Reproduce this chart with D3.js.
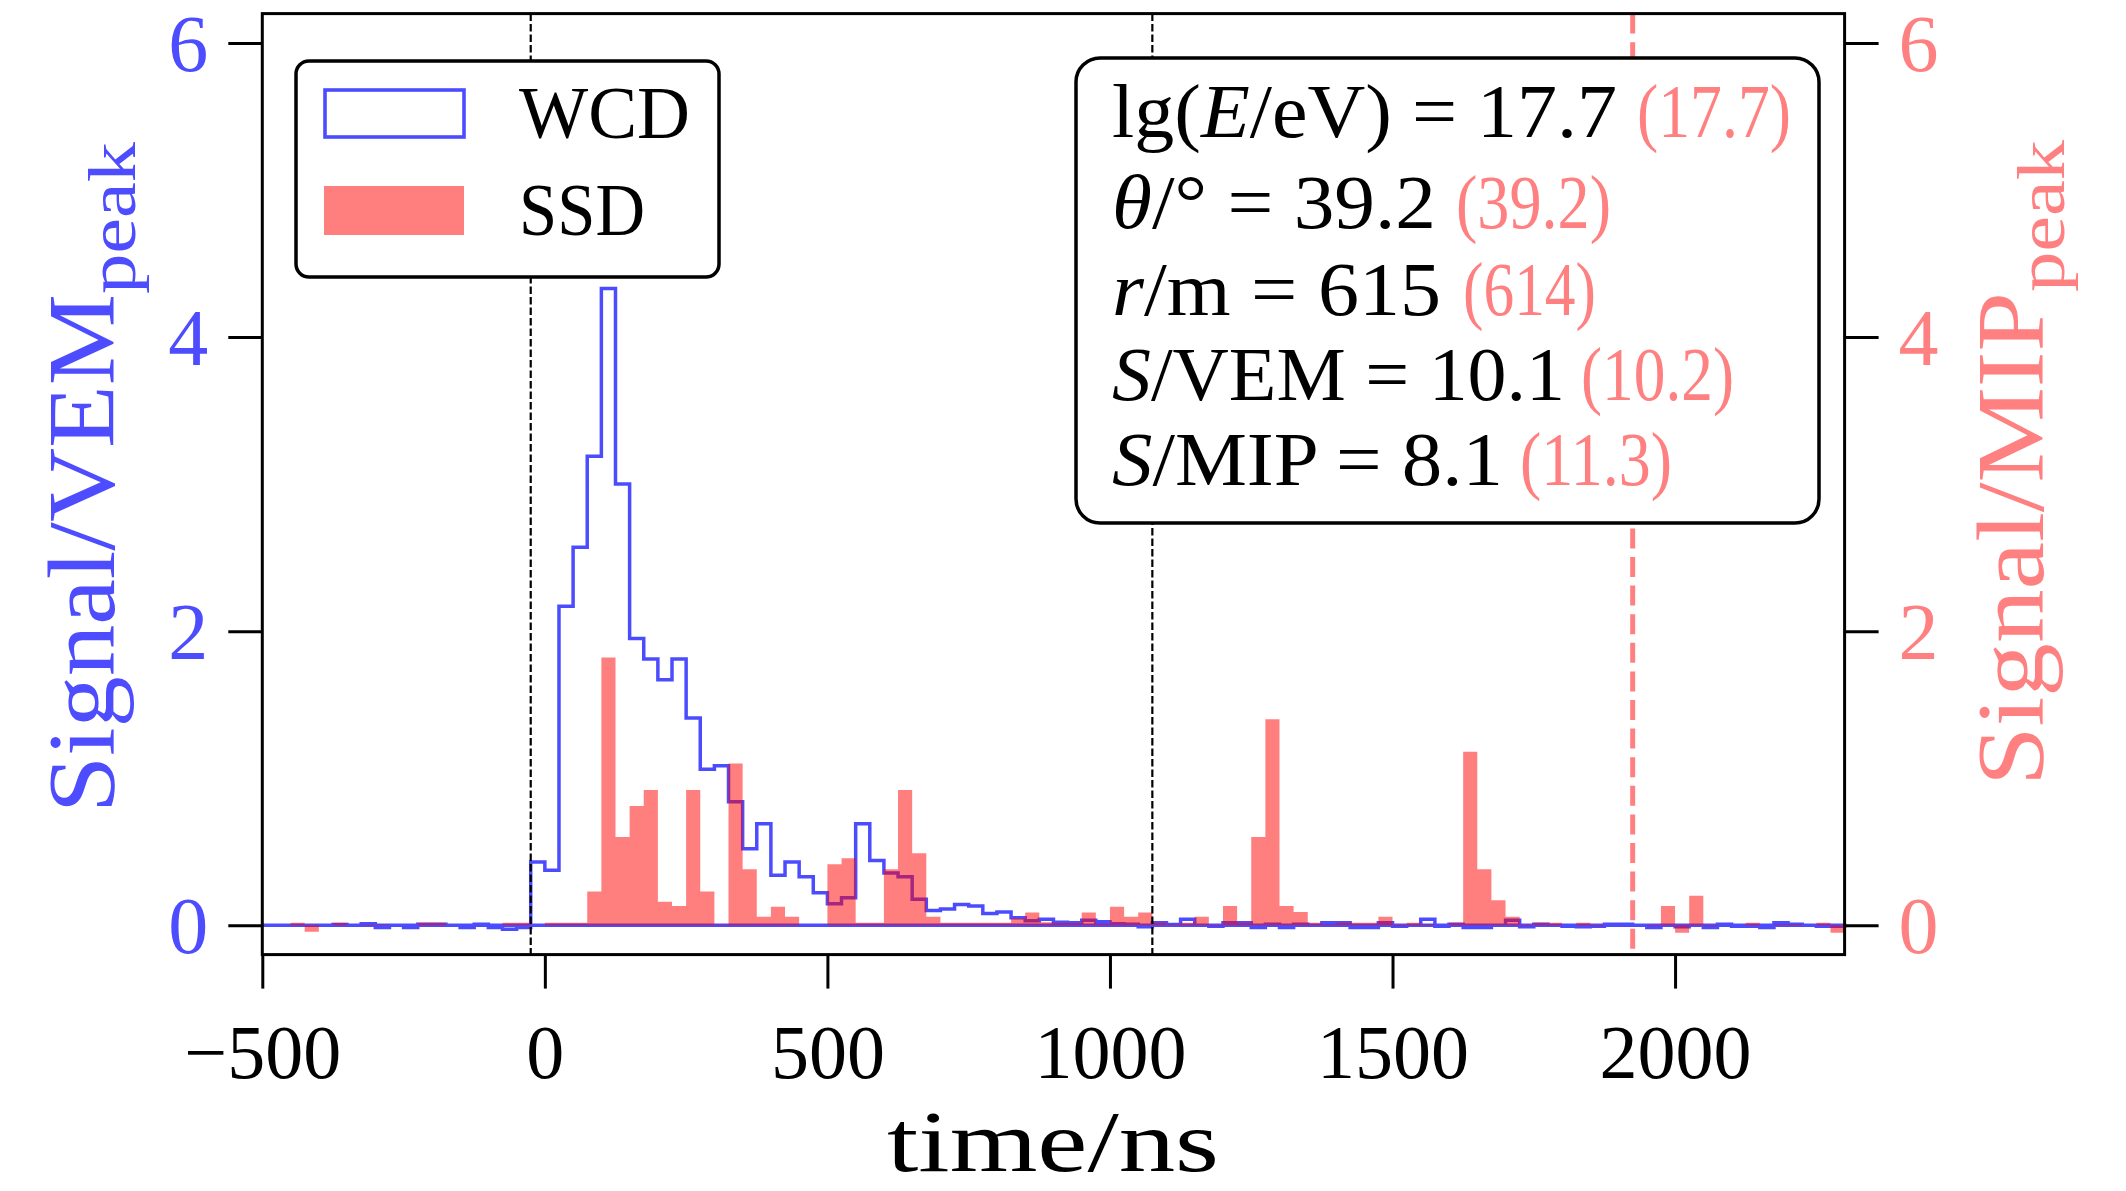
<!DOCTYPE html>
<html><head><meta charset="utf-8">
<script src="https://cdn.jsdelivr.net/npm/d3@7"></script>
<style>
body{margin:0;background:#fff}
svg{display:block}
text{font-family:"Liberation Serif","Times New Roman",serif}
</style>
</head><body>
<svg id="c" width="2126" height="1191"></svg>
<script>
// ---- data ----
const binStart = -500;
const binWidth = 25;
const wcd = [
  0.0, 0.0, 0.0, 0.0, 0.0, 0.005, 0.0, 0.01, -0.016, 0.0,
  -0.016, 0.007, 0.007, 0.0, -0.016, 0.007, -0.016, -0.027, -0.016, 0.43,
  0.373, 2.17, 2.57, 3.19, 4.33, 3.00, 1.95, 1.81, 1.67, 1.81,
  1.41, 1.06, 1.085, 0.84, 0.52, 0.69, 0.34, 0.43, 0.33, 0.22,
  0.145, 0.187, 0.69, 0.44, 0.355, 0.33, 0.177, 0.10, 0.11, 0.14,
  0.13, 0.08, 0.09, 0.05, 0.03, 0.04, 0.02, 0.016, 0.034, 0.023,
  0.01, 0.007, -0.01, 0.016, 0.005, 0.04, 0.0, -0.007, 0.016, 0.016,
  -0.016, 0.007, -0.016, 0.007, 0.0, 0.016, 0.016, -0.016, -0.016, 0.016,
  -0.007, 0.0, 0.04, -0.007, 0.007, -0.016, -0.016, 0.0, 0.034, -0.011,
  0.007, 0.0, -0.007, -0.011, -0.007, 0.007, 0.007, 0.0, -0.016, 0.0,
  -0.011, 0.0, -0.016, 0.007, -0.007, -0.007, -0.016, 0.016, 0.007, 0.0,
  -0.007, -0.007
];
const ssd = [
  0.0, 0.0, 0.016, -0.045, 0.0, 0.016, 0.0, 0.005, 0.005, 0.0,
  0.0, 0.016, 0.016, 0.0, 0.0, 0.0, 0.0, 0.016, 0.016, 0.0,
  0.016, 0.016, 0.016, 0.23, 1.82, 0.60, 0.81, 0.92, 0.16, 0.13,
  0.92, 0.23, 0.005, 1.10, 0.38, 0.057, 0.125, 0.057, 0.0, 0.0,
  0.415, 0.455, 0.016, 0.016, 0.38, 0.92, 0.49, 0.057, 0.016, 0.016,
  0.016, 0.016, 0.016, 0.045, 0.086, 0.02, 0.015, 0.015, 0.086, 0.01,
  0.125, 0.057, 0.086, 0.016, 0.007, 0.016, 0.057, -0.007, 0.13, 0.016,
  0.60, 1.40, 0.13, 0.09, 0.016, 0.007, 0.016, 0.016, 0.016, 0.057,
  -0.007, 0.016, 0.007, 0.0, 0.016, 1.18, 0.38, 0.17, 0.057, -0.007,
  0.016, 0.016, 0.0, 0.016, -0.007, 0.0, 0.0, 0.0, -0.007, 0.13,
  -0.052, 0.20, -0.007, 0.0, 0.0, 0.016, 0.0, 0.007, 0.007, 0.0,
  0.016, -0.052
];
const xTicks = [-500, 0, 500, 1000, 1500, 2000];
const yTicks = [0, 2, 4, 6];
const blackLines = [-25, 1075];
const redLine = 1925;
const legendLabels = ["WCD", "SSD"];
const statLabels = [
  [{t:"lg("},{t:"E",i:1},{t:"/eV) = 17.7"}],
  [{t:"θ",i:1},{t:"/° = 39.2"}],
  [{t:"r",i:1},{t:"/m = 615"}],
  [{t:"S",i:1},{t:"/VEM = 10.1"}],
  [{t:"S",i:1},{t:"/MIP = 8.1"}]
];
const statRed = ["(17.7)", "(39.2)", "(614)", "(10.2)", "(11.3)"];

// ---- styles ----
const BLUE = "#4d4dff", SALMON = "#ff8080";
const svg = d3.select("#c");
const x = d3.scaleLinear().domain([-500, 2300]).range([262.3, 1844.6]);
const y = d3.scaleLinear().domain([-0.2, 6.2]).range([954.6, 13.6]);
const xEnd = binStart + binWidth * wcd.length;

// WCD step outline (closed)
const wPts = [[binStart, 0]].concat(wcd.map((v, i) => [binStart + i * binWidth, v]))
  .concat([[xEnd, wcd[wcd.length - 1]], [xEnd, 0]]);
const stepLine = d3.line().x(d => x(d[0])).y(d => y(d[1])).curve(d3.curveStepAfter);
svg.append("path").attr("d", stepLine(wPts) + "Z")
  .attr("fill", "none").attr("stroke", "#0000ff").attr("stroke-opacity", 0.7)
  .attr("stroke-width", 3.5).attr("stroke-linejoin", "miter");

// SSD filled bars
const sPts = ssd.map((v, i) => [binStart + i * binWidth, v]).concat([[xEnd, ssd[ssd.length - 1]]]);
const area = d3.area().x(d => x(d[0])).y0(y(0)).y1(d => y(d[1])).curve(d3.curveStepAfter);
svg.append("path").attr("d", area(sPts)).attr("fill", "#ff0000").attr("fill-opacity", 0.5);

// vertical lines
blackLines.forEach(t => {
  svg.append("line").attr("x1", x(t)).attr("x2", x(t)).attr("y1", y(6.2)).attr("y2", y(-0.2))
    .attr("stroke", "#000").attr("stroke-width", 2.2).attr("stroke-dasharray", "7.5,3");
});
svg.append("line").attr("x1", x(redLine)).attr("x2", x(redLine)).attr("y1", y(6.2)).attr("y2", y(-0.2))
  .attr("stroke", SALMON).attr("stroke-width", 5).attr("stroke-dasharray", "20,8.6");

// axes frame
svg.append("rect").attr("x", x(-500)).attr("y", y(6.2)).attr("width", x(2300) - x(-500))
  .attr("height", y(-0.2) - y(6.2)).attr("fill", "none").attr("stroke", "#000").attr("stroke-width", 3);

// x axis
const xAxis = d3.axisBottom(x).tickValues(xTicks).tickSize(34).tickPadding(0)
  .tickFormat(d => d < 0 ? "\u2212" + Math.abs(d) : String(d));
const gx = svg.append("g").attr("transform", `translate(0,${y(-0.2)})`).call(xAxis);
gx.select(".domain").remove();
gx.selectAll(".tick line").attr("stroke", "#000").attr("stroke-width", 3);
gx.selectAll(".tick text").attr("y", 123).attr("dy", null).attr("fill", "#000")
  .style("font-size", "76px").style("font-family", "'Liberation Serif',serif");

// left y axis
const yl = d3.axisLeft(y).tickValues(yTicks).tickSize(34).tickPadding(20).tickFormat(d3.format("d"));
const gyl = svg.append("g").attr("transform", `translate(${x(-500)},0)`).call(yl);
gyl.select(".domain").remove();
gyl.selectAll(".tick line").attr("stroke", "#000").attr("stroke-width", 3);
gyl.selectAll(".tick text").attr("fill", BLUE).attr("dy", "0.34em")
  .style("font-size", "80px").style("font-family", "'Liberation Serif',serif");

// right y axis
const yr = d3.axisRight(y).tickValues(yTicks).tickSize(34).tickPadding(20).tickFormat(d3.format("d"));
const gyr = svg.append("g").attr("transform", `translate(${x(2300)},0)`).call(yr);
gyr.select(".domain").remove();
gyr.selectAll(".tick line").attr("stroke", "#000").attr("stroke-width", 3);
gyr.selectAll(".tick text").attr("fill", SALMON).attr("dy", "0.34em")
  .style("font-size", "80px").style("font-family", "'Liberation Serif',serif");

// axis labels
svg.append("text").attr("x", 887).attr("y", 1171).attr("font-size", 86)
  .attr("textLength", 332).attr("lengthAdjust", "spacingAndGlyphs").text("time/ns");

function yLabel(px, py, main, mainLen, color) {
  const t = svg.append("text").attr("transform", `translate(${px},${py}) rotate(-90)`)
    .attr("fill", color).attr("font-size", 96);
  t.append("tspan").attr("textLength", mainLen).attr("lengthAdjust", "spacingAndGlyphs").text(main);
  t.append("tspan").attr("font-size", 67).attr("dy", 21).attr("textLength", 152)
    .attr("lengthAdjust", "spacingAndGlyphs").text("peak");
}
yLabel(114, 813, "Signal/VEM", 519, BLUE);
yLabel(2043, 786, "Signal/MIP", 494, SALMON);

// legend
svg.append("rect").attr("x", 296).attr("y", 61).attr("width", 423).attr("height", 216).attr("rx", 13)
  .attr("fill", "#fff").attr("stroke", "#000").attr("stroke-width", 3.5);
svg.append("rect").attr("x", 325).attr("y", 90).attr("width", 139).attr("height", 47)
  .attr("fill", "none").attr("stroke", "#0000ff").attr("stroke-opacity", 0.7).attr("stroke-width", 3.6);
svg.append("rect").attr("x", 324).attr("y", 186).attr("width", 140).attr("height", 49)
  .attr("fill", "#ff0000").attr("fill-opacity", 0.5);
legendLabels.forEach((s, i) => {
  svg.append("text").attr("x", 519).attr("y", [138, 235][i]).attr("font-size", 74)
    .attr("textLength", [171, 126][i]).attr("lengthAdjust", "spacingAndGlyphs").text(s);
});

// stats box
svg.append("rect").attr("x", 1076).attr("y", 58).attr("width", 743).attr("height", 465).attr("rx", 24)
  .attr("fill", "#fff").attr("stroke", "#000").attr("stroke-width", 3.5);
const baseY = [137, 228, 315, 400, 485];
const blackLen = [505, 324, 329, 453, 391];
const redX = [1637, 1456, 1463, 1581, 1520];
const redLen = [154, 155, 133, 153, 152];
statLabels.forEach((parts, i) => {
  const t = svg.append("text").attr("x", 1112).attr("y", baseY[i]).attr("font-size", 76)
    .attr("textLength", blackLen[i]).attr("lengthAdjust", "spacingAndGlyphs");
  parts.forEach(p => t.append("tspan").attr("font-style", p.i ? "italic" : "normal").text(p.t));
  svg.append("text").attr("x", redX[i]).attr("y", baseY[i]).attr("font-size", 76).attr("fill", SALMON)
    .attr("textLength", redLen[i]).attr("lengthAdjust", "spacingAndGlyphs").text(statRed[i]);
});
</script>
</body></html>
